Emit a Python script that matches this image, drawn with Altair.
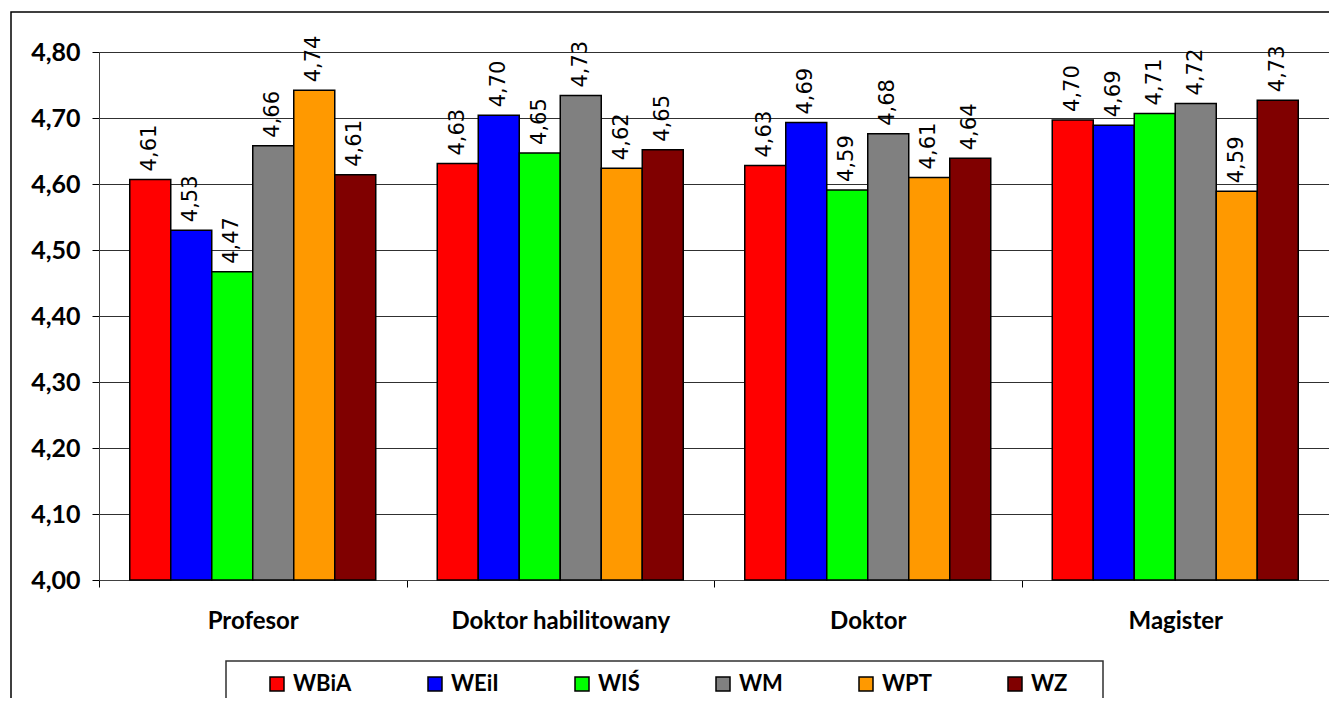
import altair as alt
import pandas as pd

categories = ["Profesor", "Doktor habilitowany", "Doktor", "Magister"]
series = ["WBiA", "WEiI", "WIŚ", "WM", "WPT", "WZ"]
colors = ["#FF0000", "#0000FF", "#00FF00", "#808080", "#FF9900", "#800000"]

wbia = [4.607, 4.631, 4.628, 4.697]
weii = [4.530, 4.704, 4.693, 4.689]
wis = [4.467, 4.647, 4.591, 4.707]
wm = [4.658, 4.734, 4.676, 4.722]
wpt = [4.742, 4.624, 4.610, 4.589]
wz = [4.614, 4.652, 4.639, 4.727]

y_ticks = [4.0, 4.1, 4.2, 4.3, 4.4, 4.5, 4.6, 4.7, 4.8]

rows = []
for s, vals in zip(series, [wbia, weii, wis, wm, wpt, wz]):
    for c, v in zip(categories, vals):
        rows.append({"cat": c, "series": s, "value": v,
                     "label": f"{v:.2f}".replace(".", ",")})
df = pd.DataFrame(rows)

W, H = 1230, 528
LATO = "Lato"

x_enc = alt.X("cat:N", sort=categories,
              scale=alt.Scale(paddingInner=0, paddingOuter=0),
              axis=alt.Axis(title=None, labelAngle=0, tickBand="extent",
                            labelFont=LATO, labelFontSize=24, labelFontWeight="bold",
                            labelColor="black", labelPadding=22, tickSize=7,
                            labelLimit=500,
                            tickColor="black", domainColor="#404040", grid=False))
xo_enc = alt.XOffset("series:N", sort=series,
                     scale=alt.Scale(paddingOuter=0.75, paddingInner=0))
y_enc = alt.Y("value:Q",
              scale=alt.Scale(domain=[4.0, 4.8], zero=False, nice=False),
              axis=alt.Axis(title=None, values=y_ticks,
                            labelExpr="replace(format(datum.value, '.2f'), '.', ',')",
                            labelFont=LATO, labelFontSize=25, labelFontWeight="bold",
                            labelColor="black", labelPadding=12, tickSize=7,
                            tickColor="black", domainColor="#404040",
                            grid=True, gridColor="#303030", gridWidth=1))

base = alt.Chart(df)

bars = base.mark_bar(stroke="black", strokeWidth=1.5).encode(
    x=x_enc, xOffset=xo_enc, y=y_enc, y2=alt.datum(4.0),
    color=alt.Color("series:N", sort=series,
                    scale=alt.Scale(domain=series, range=colors),
                    legend=alt.Legend(title=None, orient="none", legendX=167, legendY=621,
                                      direction="horizontal", symbolType="square",
                                      symbolSize=196, symbolStrokeColor="black",
                                      symbolStrokeWidth=1.5, labelFont=LATO,
                                      labelFontSize=22, labelFontWeight="bold",
                                      labelColor="black", columnPadding=72,
                                      gridAlign="none", padding=0, labelOffset=5)),
)

labels = base.mark_text(angle=270, align="left", baseline="middle", dx=8,
                        font="DejaVu Sans", fontSize=21, color="black").encode(
    x=alt.X("cat:N", sort=categories),
    xOffset=alt.XOffset("series:N", sort=series),
    y=alt.Y("value:Q"),
    text="label:N",
)

deco = alt.Chart(pd.DataFrame({"a": [0]}))
outer = deco.mark_rect(fillOpacity=0, stroke="black", strokeWidth=1.5).encode(
    x=alt.value(-88), x2=alt.value(1400), y=alt.value(-40), y2=alt.value(800))
legend_box = deco.mark_rect(fillOpacity=0, stroke="#303030", strokeWidth=1.5).encode(
    x=alt.value(127), x2=alt.value(1004), y=alt.value(609), y2=alt.value(720))

chart = alt.layer(outer, legend_box, bars, labels).properties(
    width=W, height=H,
    autosize=alt.AutoSizeParams(type="none"),
    padding={"left": 91, "top": 44, "right": 0, "bottom": 118},
    background="white",
).configure_view(stroke="#808080", strokeWidth=1)

chart.save("out.html", embed_options={"renderer": "svg", "actions": False})
